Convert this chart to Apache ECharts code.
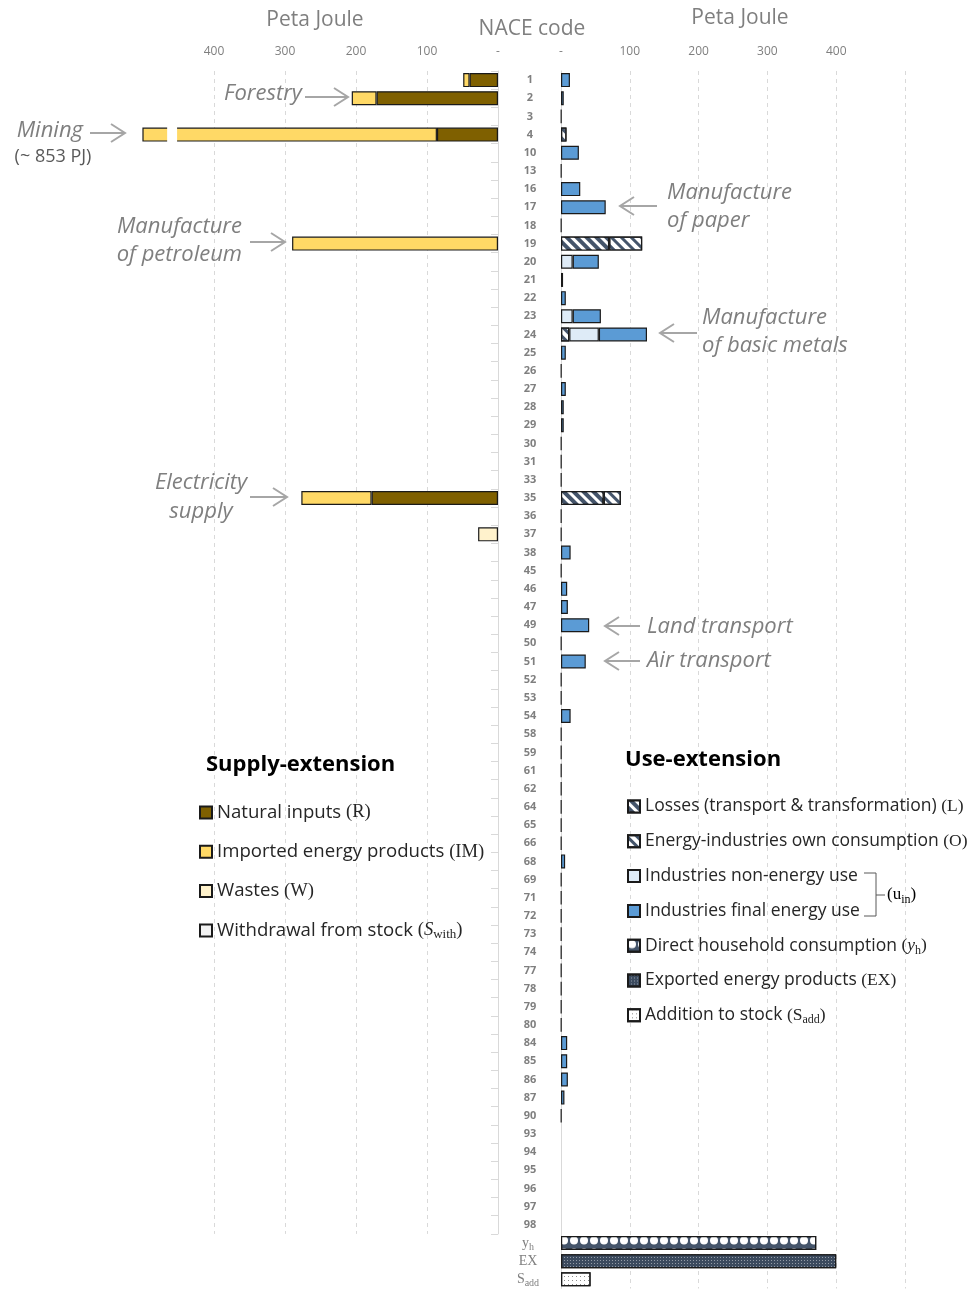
<!DOCTYPE html>
<html><head><meta charset="utf-8">
<script src="https://cdn.jsdelivr.net/npm/echarts@6/dist/echarts.min.js"></script>
<style>html,body{margin:0;padding:0;background:#fff}#c{width:974px;height:1291px}</style>
</head><body><div id="c"></div>
<script>
// ---------- data ----------
const nace = ['1','2','3','4','10','13','16','17','18','19','20','21','22','23','24','25','26','27','28','29','30','31','33','35','36','37','38','45','46','47','49','50','51','52','53','54','58','59','61','62','64','65','66','68','69','71','72','73','74','77','78','79','80','84','85','86','87','90','93','94','95','96','97','98'];
const useRows = ['yh','EX','Sadd'];
const tickValues = [100, 200, 300, 400];

// Supply-extension (Peta Joule), [NACE code, value]
const naturalInputs   = [['1',40],['2',171],['4',86],['35',178]];
const importedEnergy  = [['1',9],['2',35],['4',767],['19',290],['35',99]];
const wastes          = [['37',28]];
const withdrawalStock = [];
const axisBreakGap = [452, 466];   // visual break in the truncated Mining bar (~853 PJ)

// Use-extension (Peta Joule)
const losses         = [['19',70],['35',62]];
const ownConsumption = [['4',8],['19',48],['24',12],['35',25]];
const nonEnergyUse   = [['20',17],['23',17],['24',43]];
const finalEnergyUse = [['1',13],['2',4],['3',0.5],['10',26],['13',0.5],['16',28],['17',65],['18',0.5],['20',38],['21',3],['22',7],['23',41],['24',70],['25',7],['26',0.5],['27',7],['28',4],['29',4],['30',0.5],['31',0.5],['33',0.5],['36',0.5],['37',0.5],['38',14],['45',0.5],['46',9],['47',10],['49',41],['50',0.5],['51',36],['52',0.5],['53',0.5],['54',14],['58',0.5],['59',0.5],['61',0.5],['62',0.5],['64',0.5],['65',0.5],['66',0.5],['68',6],['69',0.5],['71',0.5],['72',0.5],['73',0.5],['74',0.5],['77',0.5],['78',0.5],['79',0.5],['80',0.5],['84',9],['85',9],['86',10],['87',5],['90',0.5]];
const householdDirect = [['yh',371]];
const exported        = [['EX',400]];
const additionStock   = [['Sadd',43]];

// ---------- helpers ----------
const useCats = nace.concat(useRows);
function col(pairs, cats) { const m = new Map(pairs); return cats.map(c => m.has(c) ? m.get(c) : null); }
const PITCH = 18.17, TOP = 71;
const SANS = 'Open Sans';
const SERIF = 'Liberation Serif';
const BORDER = { borderColor: '#1a1a1a', borderWidth: 1.2 };

const LH = 22;
const richText = (size, color) => ({
  t: { fontFamily: SANS, fontSize: size, color: color, lineHeight: LH },
  m: { fontFamily: SERIF, fontSize: size, color: color, lineHeight: LH },
  mi: { fontFamily: SERIF, fontStyle: 'italic', fontSize: size, color: color, lineHeight: LH },
  sub: { fontFamily: SERIF, fontSize: Math.round(size * 0.68), color: color, verticalAlign: 'bottom', lineHeight: 10 }
});

const labels = {
  R: '{t|Natural inputs }{m|(R)}',
  IM: '{t|Imported energy products }{m|(IM)}',
  W: '{t|Wastes }{m|(W)}',
  SW: '{t|Withdrawal from stock }{m|(}{mi|S}{sub|with}{m|)}',
  L: '{t|Losses (transport & transformation) }{m|(L)}',
  O: '{t|Energy-industries own consumption }{m|(O)}',
  NE: '{t|Industries non-energy use}',
  FE: '{t|Industries final energy use}',
  YH: '{t|Direct household consumption }{m|(}{mi|y}{sub|h}{m|)}',
  EX: '{t|Exported energy products }{m|(EX)}',
  SA: '{t|Addition to stock }{m|(S}{sub|add}{m|)}'
};

function leftBar(name, pairs, color) {
  return {
    name, type: 'bar', stack: 'supply', xAxisIndex: 0, yAxisIndex: 0,
    barWidth: 14, data: col(pairs, nace),
    itemStyle: Object.assign({ color }, BORDER)
  };
}
function rightBar(name, pairs, color, decal) {
  const st = Object.assign({ color }, BORDER);
  if (decal) st.decal = decal;
  return {
    name, type: 'bar', stack: 'use', xAxisIndex: 1, yAxisIndex: 1,
    barWidth: 14, data: col(pairs, useCats), itemStyle: st
  };
}

const NAVY = '#44546a';
const stripes = (c) => ({ symbol: 'rect', symbolSize: 1, color: c, dashArrayX: [1, 0], dashArrayY: [3, 4], rotation: Math.PI / 4 });

const series = [
  leftBar('R', naturalInputs, '#7f6000'),
  leftBar('IM', importedEnergy, '#ffd966'),
  leftBar('W', wastes, '#fff2cc'),
  leftBar('SW', withdrawalStock, '#f2f2f2'),
  rightBar('L', losses, NAVY, stripes('#ffffff')),
  rightBar('O', ownConsumption, '#ffffff', stripes(NAVY)),
  rightBar('NE', nonEnergyUse, '#deebf7'),
  rightBar('FE', finalEnergyUse, '#5b9bd5'),
  rightBar('YH', householdDirect, NAVY, { symbol: 'circle', symbolSize: 1, color: '#ffffff', dashArrayX: [8, 1.5], dashArrayY: [9, 3] }),
  rightBar('EX', exported, '#3b4a5e', { symbol: 'rect', symbolSize: 1, color: 'rgba(255,255,255,0.45)', dashArrayX: [1, 2], dashArrayY: [1, 2] }),
  rightBar('SA', additionStock, '#ffffff', { symbol: 'rect', symbolSize: 1, color: '#8c8c8c', dashArrayX: [1, 3], dashArrayY: [1, 3] })
];

const gridLine = { show: true, lineStyle: { type: [4, 4], color: '#d9d9d9', width: 1 } };
const tickFmt = v => v === 0 ? '-' : (tickValues.includes(v) ? String(v) : '');

// ---------- annotations ----------
const GREY = '#a6a6a6', AGREY = '#7f7f7f';
function arrow(x1, y, x2) {
  const d = x2 > x1 ? 1 : -1;
  return [
    { type: 'polyline', z: 50, shape: { points: [[x1, y], [x2, y]] }, style: { stroke: GREY, lineWidth: 2, fill: null } },
    { type: 'polyline', z: 50, shape: { points: [[x2 - d * 14, y - 9], [x2, y], [x2 - d * 14, y + 9]] }, style: { stroke: GREY, lineWidth: 2, fill: null } }
  ];
}
function note(text, x, y, align) {
  return { type: 'text', z: 50, style: { text, x, y, fill: AGREY, font: 'italic 22px "Open Sans"', align: align || 'left', verticalAlign: 'middle' } };
}
const graphics = [].concat(
  { type: 'text', style: { text: 'Peta Joule', x: 315, y: 20, fill: AGREY, font: '21px "Open Sans"', align: 'center', verticalAlign: 'middle' } },
  { type: 'text', style: { text: 'Peta Joule', x: 740, y: 18, fill: AGREY, font: '21px "Open Sans"', align: 'center', verticalAlign: 'middle' } },
  { type: 'text', style: { text: 'NACE code', x: 532, y: 29, fill: AGREY, font: '21px "Open Sans"', align: 'center', verticalAlign: 'middle' } },
  note('Forestry', 302, 94, 'right'), arrow(305, 97, 348),
  note('Mining', 83, 131, 'right'), arrow(90, 133, 125),
  { type: 'text', style: { text: '(~ 853 PJ)', x: 53, y: 157, fill: '#595959', font: '18px "Open Sans"', align: 'center', verticalAlign: 'middle' } },
  note('Manufacture', 242, 227, 'right'), note('of petroleum', 242, 255, 'right'), arrow(250, 242, 285),
  note('Electricity', 201, 483, 'center'), note('supply', 201, 512, 'center'), arrow(250, 497, 287),
  note('Manufacture', 667, 193), note('of paper', 667, 221), arrow(657, 206, 620),
  note('Manufacture', 702, 318), note('of basic metals', 702, 346), arrow(697, 333, 660),
  note('Land transport', 647, 627), arrow(640, 626, 605),
  note('Air transport', 647, 661), arrow(640, 661, 605),
  { type: 'text', style: { text: 'Supply-extension', x: 206, y: 765, fill: '#000', font: 'bold 22px "Open Sans"', align: 'left', verticalAlign: 'middle' } },
  { type: 'text', style: { text: 'Use-extension', x: 625, y: 760, fill: '#000', font: 'bold 22px "Open Sans"', align: 'left', verticalAlign: 'middle' } },
  { type: 'polyline', shape: { points: [[864, 873], [876, 873], [876, 916], [864, 916]] }, style: { stroke: '#595959', lineWidth: 1, fill: null } },
  { type: 'polyline', shape: { points: [[876, 895], [885, 895]] }, style: { stroke: '#595959', lineWidth: 1, fill: null } },
  { type: 'text', style: { text: '{m|(u}{sub|in}{m|)}', x: 887, y: 895, align: 'left', verticalAlign: 'middle', rich: richText(17, '#262626') } }
);

function legendBase(fs) {
  return {
    orient: 'vertical', itemWidth: 12, itemHeight: 12, icon: 'rect', selectedMode: false, padding: 0,
    formatter: n => labels[n],
    textStyle: { fontFamily: SANS, fontSize: fs, color: '#262626', lineHeight: LH, rich: richText(fs, '#262626') }
  };
}

const chart = echarts.init(document.getElementById('c'), null, { renderer: 'canvas' });
chart.setOption({
  animation: false,
  backgroundColor: '#fff',
  grid: [
    { left: 143, top: TOP, width: 355, height: nace.length * PITCH },
    { left: 561, top: TOP, width: 344, height: useCats.length * PITCH }
  ],
  xAxis: [
    {
      gridIndex: 0, type: 'value', inverse: true, position: 'top', min: 0, max: 500, interval: 100,
      axisLine: { show: false }, axisTick: { show: false },
      axisLabel: { formatter: tickFmt, color: AGREY, fontFamily: SANS, fontSize: 12, margin: 13 },
      splitLine: Object.assign({ showMaxLine: false, showMinLine: false }, gridLine)
    },
    {
      gridIndex: 1, type: 'value', position: 'top', min: 0, max: 500, interval: 100,
      axisLine: { show: false }, axisTick: { show: false },
      axisLabel: { formatter: v => v === 500 ? '' : tickFmt(v), color: AGREY, fontFamily: SANS, fontSize: 12, margin: 13 },
      splitLine: Object.assign({ showMinLine: false }, gridLine)
    }
  ],
  yAxis: [
    {
      gridIndex: 0, type: 'category', data: nace, inverse: true, position: 'right',
      axisLine: { show: true, lineStyle: { color: '#d9d9d9' } },
      axisTick: { show: true, inside: true, length: 7, lineStyle: { color: '#d9d9d9' } },
      axisLabel: { align: 'center', margin: 32, color: '#7f7f7f', fontFamily: SANS, fontWeight: 'bold', fontSize: 11, interval: 0 }
    },
    {
      gridIndex: 1, type: 'category', data: useCats, inverse: true, position: 'left',
      axisLine: { show: true, lineStyle: { color: '#d9d9d9' } },
      axisTick: { show: false },
      axisLabel: {
        align: 'center', margin: 33, interval: 0,
        formatter: v => v === 'yh' ? '{mi|y}{sub|h}' : v === 'EX' ? '{m|EX}' : v === 'Sadd' ? '{m|S}{sub|add}' : '',
        rich: {
          m: { fontFamily: SERIF, fontSize: 14, color: '#7f7f7f', lineHeight: 18 },
          mi: { fontFamily: SERIF, fontSize: 14, color: '#7f7f7f', lineHeight: 18 },
          sub: { fontFamily: SERIF, fontSize: 10, color: '#7f7f7f', verticalAlign: 'bottom', lineHeight: 9 }
        }
      }
    }
  ],
  legend: [
    Object.assign({ left: 199, top: 801.5, itemGap: 17.3, data: ['R', 'IM', 'W', 'SW'] }, legendBase(18.6)),
    Object.assign({ left: 627, top: 795.5, itemGap: 12.8, data: ['L', 'O', 'NE', 'FE', 'YH', 'EX', 'SA'] }, legendBase(17.5))
  ],
  series: series
});

// break marker on the truncated Mining bar, placed through the axis scales
const gx1 = chart.convertToPixel({ xAxisIndex: 0 }, axisBreakGap[0]);
const gx2 = chart.convertToPixel({ xAxisIndex: 0 }, axisBreakGap[1]);
const gy = chart.convertToPixel({ yAxisIndex: 0 }, '4');
graphics.push({ type: 'rect', z: 40, shape: { x: Math.min(gx1, gx2), y: gy - 9, width: Math.abs(gx2 - gx1), height: 18 }, style: { fill: '#ffffff' } });
chart.setOption({ graphic: graphics });
</script>
</body></html>
